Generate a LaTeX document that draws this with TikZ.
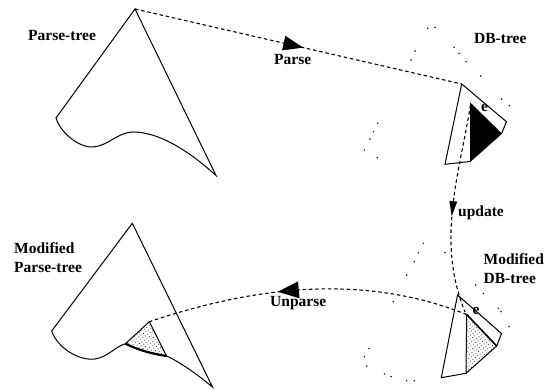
\documentclass[tikz,border=0pt]{standalone}
\usepackage{fontspec}
\setmainfont{Liberation Serif}
\usetikzlibrary{decorations.markings,patterns.meta}
\begin{document}
\begin{tikzpicture}[x=1pt,y=-1pt,
  outline/.style={line width=1pt, line join=miter},
  flow/.style={line width=1.1pt, dash pattern=on 3.5pt off 2.8pt},
  lbl/.style={font=\fontsize{15.5}{19}\selectfont\bfseries, inner sep=0pt, anchor=base west},
  speck/.style={fill=black},
  texture/.style={pattern={Dots[radius=0.5pt,distance=3pt,angle=35]}},
  midtri/.style n args={3}{postaction={decorate}, decoration={markings,
     mark=at position #1 with {\fill[solid] (-#2pt,#3pt) -- (#2pt,0pt) -- (-#2pt,-#3pt) -- cycle;}}}
]
\useasboundingbox (0,0) rectangle (553,390);

% ---------- coordinates ----------
% parse-tree (top left)
\coordinate (pa) at (135,9);
\coordinate (pl) at (56,118);
\coordinate (pr) at (216,175.5);
% DB-tree (top right)
\coordinate (da) at (461.7,84);
\coordinate (dr) at (506.5,121.7);
\coordinate (dr2) at (501.7,133.3);
\coordinate (db) at (470,161.5);
\coordinate (dl) at (445,164.3);
\coordinate (dt) at (470,102.3);
\coordinate (us) at (470.5,105);
% modified DB-tree (bottom right)
\coordinate (ma) at (457.5,295);
\coordinate (mr) at (501.5,333.5);
\coordinate (mr2) at (496.7,346);
\coordinate (mb) at (466,373.3);
\coordinate (ml) at (441.3,377.7);
\coordinate (mt) at (466.7,314.5);
\coordinate (ue) at (465,312);
% modified parse-tree (bottom left)
\coordinate (qa) at (132.3,223.3);
\coordinate (ql) at (51.7,331);
\coordinate (qr) at (212.5,387);
\coordinate (tt) at (149.3,321.7);
\coordinate (tl) at (125.5,343.7);
\coordinate (trr) at (166.5,356);

% ---------- trees ----------
\draw[outline] (pa) -- (pl) .. controls (62,136) and (82,148) .. (93,147)
  .. controls (108,146) and (118,132) .. (133,132)
  .. controls (160,132) and (190,152) .. (pr) -- cycle;

\draw[outline] (da) -- (dr) -- (dr2) -- (db) -- (dl) -- cycle;
\fill (dt) -- (dr2) -- (db) -- cycle;

\draw[outline] (ma) -- (mr) -- (mr2) -- (mb) -- (ml) -- cycle;
\fill[texture] (mt) -- (mr2) -- (mb) -- cycle;
\draw[outline] (mt) -- (mb);
\draw[line width=1.6pt] (mt) -- (mr2);

\fill[texture] (tt) -- (tl) .. controls (138,350) and (153,354) .. (trr) -- cycle;
\draw[outline] (qa) -- (ql) .. controls (58,349) and (80,361) .. (95,359)
  .. controls (108,357) and (116,346) .. (tl)
  .. controls (138,350) and (153,354) .. (trr)
  .. controls (180,362) and (198,375) .. (qr) -- cycle;
\draw[outline] (tl) -- (tt) -- (trr);
\draw[line width=2.2pt] (tl) .. controls (138,350) and (153,354) .. (trr);

% ---------- connectors ----------
\draw[flow, midtri={0.485}{10}{7.5}] (pa) -- (da);
\draw[flow, midtri={0.5}{7.5}{4}] (us) .. controls (459,176) and (436,240) .. (ue);
\draw[flow, midtri={0.56}{10.5}{8.5}] (mt) .. controls (360,272) and (250,288) .. (tt);

% ---------- labels ----------
\node[lbl] (lpt) at (28,40.5) {Parse-tree};
\node[lbl] (lparse) at (274,64.5) {Parse};
\node[lbl] (ldb) at (474,43.3) {DB-tree};
\node[lbl, anchor=base] (le1) at (484.5,112) {e};
\node[lbl] (lupd) at (458,216.5) {update};
\node[lbl] (lmod1) at (483.5,264) {Modified};
\node[lbl] (lmod2) at (483.5,283) {DB-tree};
\node[lbl, anchor=base] (le2) at (476,314.5) {e};
\node[lbl] (lunp) at (270,306) {Unparse};
\node[lbl] (lmp1) at (14,253.3) {Modified};
\node[lbl] (lmp2) at (14,272.8) {Parse-tree};

% ---------- scattered dots ----------
\foreach \p in {(427.7,28.3),(435,27.3),(415,51),(411,60),(454,47.3),(459,53.3),
  (466,61.7),(480.7,76),(501.7,99),(509.3,105.7),(377.7,123.3),(373.3,131.7),
  (370,139),(364.3,150),(377.3,157.7),
  (423.3,243.3),(418.3,252.7),(445,252.7),(414.3,261.7),(406.7,275),(475.7,285),
  (483.3,293.3),(498.3,308.3),(501,311.7),(509,326.7),(393.3,301.7),(369,348.3),
  (364.3,356.7),(366.7,366),(384.3,374),(391,376.7),(406.7,380.7),(414.3,380.7)}
  \fill[speck] \p circle (0.8pt);
\end{tikzpicture}
\end{document}
